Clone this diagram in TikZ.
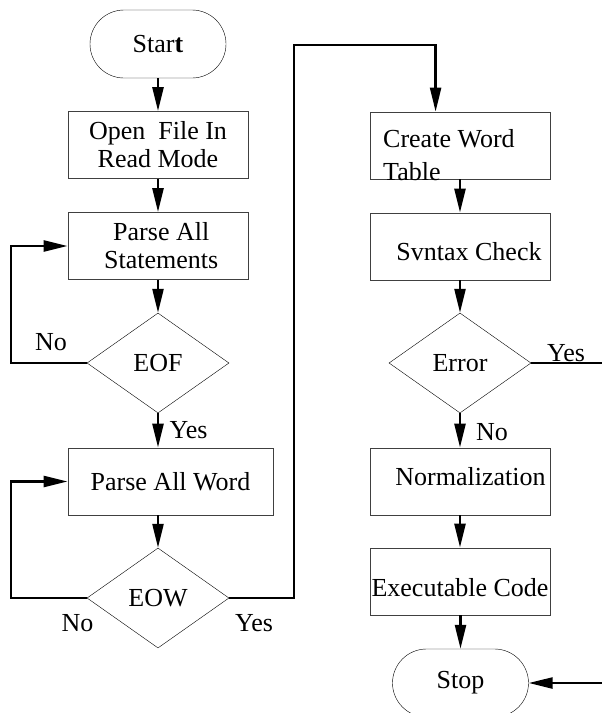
\documentclass[tikz,border=0pt]{standalone}
\usepackage{fontspec}
\setmainfont{Liberation Serif}
\usetikzlibrary{arrows.meta,shapes.geometric,shapes.misc}
\tikzstyle{startstop}=[rounded rectangle,draw,minimum width=136pt,minimum height=68pt,inner sep=0pt]
\tikzstyle{process}=[rectangle,draw=black!75,line width=0.8pt,minimum width=180pt,minimum height=67pt,inner sep=0pt,align=center]
\tikzstyle{decision}=[diamond,draw,minimum width=142pt,minimum height=100pt,inner sep=0pt]
\tikzstyle{edge} = [draw,line width=2.4pt,-{Triangle[length=24pt,width=11pt]}]
\tikzstyle{line} = [draw,line width=2.4pt]
\tikzstyle{answer} = [inner sep=0pt]

\begin{document}
\begin{tikzpicture}[x=1pt,y=-1pt,font=\fontsize{26pt}{28pt}\selectfont]
    \useasboundingbox (0,0) rectangle (602,713);

    % Left column: reading the file
    \node[startstop] (start) at (158,44) {Star\textbf{t}};
    \foreach \pos/ \name/ \text in {{(158,145)/open/{Open~ File In\\Read Mode}}, {(158,246)/stmts/{~Parse All\\~Statements}}}
        \node[process] (\name) at \pos {\text};
    \node[decision] (eof) at (158,363) {EOF};
    \node[process,minimum width=205pt] (word) at (170.5,481.5) {Parse All Word};
    \node[decision] (eow) at (158,598) {EOW};

    % Right column: checking and code
    \node[process] (table) at (460,145.5) {};
    \node[anchor=north west,align=left,inner sep=0pt,font=\fontsize{26pt}{33pt}\selectfont] (tabletext) at (383,129) {Create Word\\Table};
    \node[process,label={[xshift=9pt,yshift=-5.5pt]center:Svntax Check}] (syntax) at (460,246.5) {};
    \node[decision] (error) at (460,363) {Error};
    \node[process,label={[xshift=10.5pt,yshift=4.5pt]center:Normalization}] (norm) at (460,481.5) {};
    \node[process,label={[yshift=-6.5pt]center:Executable Code}] (exec) at (460,581.5) {};
    \node[startstop] (stop) at (460.5,683) {Stop};

    \coordinate (bend) at (294,45);
    \coordinate (errout) at (602,363);
    \coordinate (stopin) at (602,683);

    % Straight arrows down each column
    \foreach \source/ \dest in {start/open, open/stmts, stmts/eof, word/eow, table/syntax, syntax/error, error/norm, norm/exec, exec/stop}
        \path[edge] (\dest.north |- \source.south) -- (\dest.north);
    \path[edge] (eof.south) -- (eof.south |- word.north);

    % Loops back and the jump to the second column
    \path[edge] (eof.west) -- ++(-76,0) |- (stmts.west);
    \path[edge] (eow.west) -- ++(-76,0) |- (word.west);
    \path[edge] (eow.east) -| (bend) -| ([xshift=66pt]table.north west);
    \path[line] (error.east) -- (errout);
    \path[edge] (stopin) -- (stop.east);

    % Branch labels
    \node[answer] (eofno) at (51,342) {No};
    \node[answer] (eofyes) at (188.5,430.5) {Yes};
    \node[answer] (eowno) at (77.5,623.5) {No};
    \node[answer] (eowyes) at (254,623.5) {Yes};
    \node[answer] (erryes) at (566,353.5) {Yes};
    \node[answer] (errno) at (492,432) {No};
\end{tikzpicture}
\end{document}
